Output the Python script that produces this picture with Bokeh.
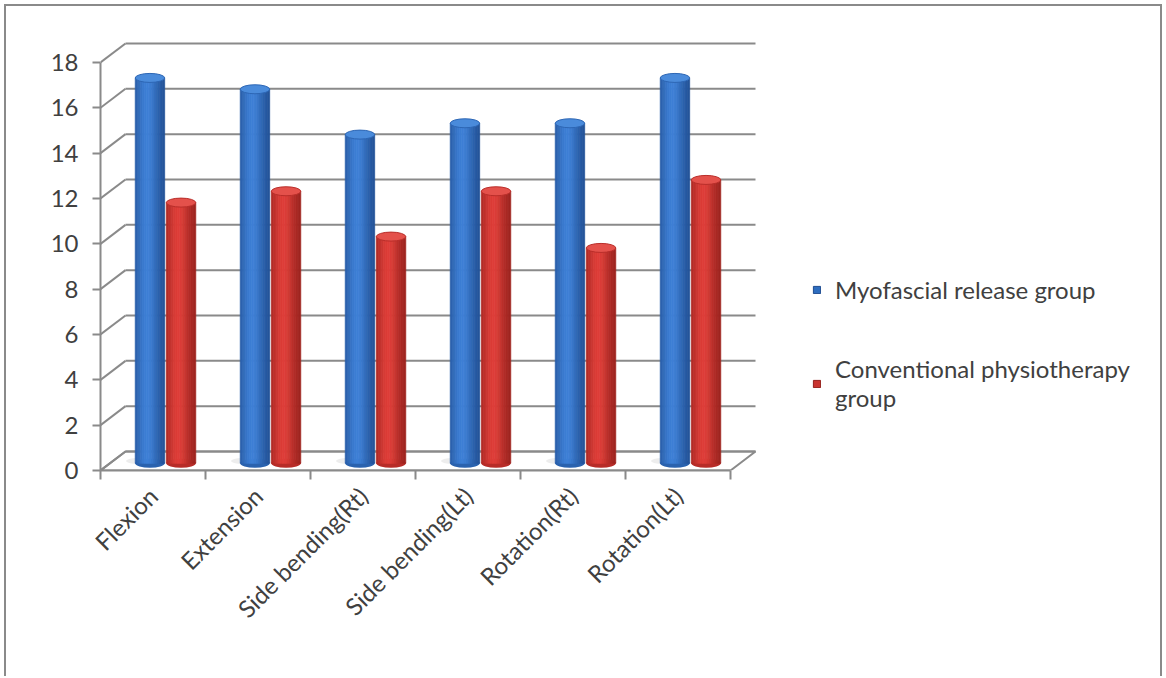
import math
from bokeh.plotting import figure
from bokeh.models import Range1d, FixedTicker, Legend, LegendItem, ColumnDataSource
from bokeh.embed import file_html
from bokeh.resources import INLINE

categories = ["Flexion", "Extension", "Side bending(Rt)", "Side bending(Lt)", "Rotation(Rt)", "Rotation(Lt)"]
myofascial = [17, 16.5, 14.5, 15, 15, 17]
conventional = [11.5, 12, 10, 12, 9.5, 12.5]
y_ticks = [0, 2, 4, 6, 8, 10, 12, 14, 16, 18]
series_names = ["Myofascial release group", "Conventional physiotherapy\ngroup"]

# pixel geometry (layout only)
PX_X = 105.0          # px per category
PX_Y = 22.667         # px per unit
DX = 25 / PX_X        # 3-D depth offset in x (data units)
DY = 19 / PX_Y        # 3-D depth offset in y (data units)
FRAME_W, FRAME_H = 1064, 440
FONT = "Lato"
FS = "24px"
TXT = "#404040"
GRID = "#8a8a8a"

p = figure(width=1158, height=672,
           x_range=Range1d(0, FRAME_W / PX_X), y_range=Range1d(0, FRAME_H / PX_Y),
           output_backend="svg", toolbar_location=None,
           min_border_left=94, min_border_right=0, min_border_top=24, min_border_bottom=208)
p.outline_line_color = None
p.xgrid.visible = False
p.ygrid.visible = False
p.margin = (4, 0, 0, 4)
p.styles = {"border-left": "2px solid #8a8a8a", "border-top": "2px solid #8a8a8a",
            "border-right": "2px solid #8a8a8a"}

n = len(categories)
ymax = y_ticks[-1]

# floor
p.patch([0, n, n + DX, DX], [0, 0, DY, DY], fill_color="white", line_color=GRID, line_width=2)
# back wall gridlines
p.segment(x0=[DX] * len(y_ticks), y0=[t + DY for t in y_ticks],
          x1=[n + DX] * len(y_ticks), y1=[t + DY for t in y_ticks], line_color=GRID, line_width=2)
# side-wall diagonals
p.segment(x0=[0] * len(y_ticks), y0=y_ticks, x1=[DX] * len(y_ticks),
          y1=[t + DY for t in y_ticks], line_color=GRID, line_width=2)

# cylinders
BW = 0.28
OFF = 0.148
base = DY / 2 - 0.1
series = [myofascial, conventional]
light = [(0x3e, 0x80, 0xd6), (0xde, 0x3e, 0x38)]
dark = [(0x1f, 0x4c, 0x90), (0x94, 0x20, 0x1c)]
cap = ["#4a8bdb", "#e4514b"]
capline = ["#2d66b4", "#b92e2a"]
mid = ["#2a62ae", "#b72c28"]


def mix(a, b, g):
    return "#%02x%02x%02x" % tuple(int(round(a[i] + (b[i] - a[i]) * g)) for i in range(3))


NS = 16
centers = [[i + 0.5 + DX / 2 + (s - 0.5) * 2 * OFF for i in range(n)] for s in range(2)]

# floor shadows
p.ellipse(x=[i + 0.5 + DX / 2 - 0.2 for i in range(n)], y=[base + 0.1] * n, width=0.35, height=7,
          height_units="screen", fill_color="#9a9a9a", fill_alpha=0.18, line_color=None)

for s in range(2):
    vals = series[s]
    p.ellipse(x=centers[s], y=[base] * n, width=BW, height=9, height_units="screen",
              fill_color=mid[s], line_color=None)
    xs, tops, bots, cols = [], [], [], []
    for i in range(n):
        for k in range(NS):
            t = (k + 0.5) / NS
            g = math.exp(-((t - 0.42) / 0.4) ** 2)
            xs.append(centers[s][i] - BW / 2 + t * BW)
            tops.append(vals[i] + base)
            bots.append(base)
            cols.append(mix(dark[s], light[s], g))
    src = ColumnDataSource(dict(x=xs, top=tops, bottom=bots, color=cols))
    p.vbar(x="x", top="top", bottom="bottom", width=BW / NS, fill_color="color",
           line_color="color", line_width=0.8, source=src)
    p.ellipse(x=centers[s], y=[v + base for v in vals], width=BW, height=9, height_units="screen",
              fill_color=cap[s], line_color=capline[s], line_width=1)

# legend (swatch renderers hold one out-of-view bar so the legend can draw them)
lr = []
for s, col in enumerate(["#2e6dbf", "#c93430"]):
    lr.append(p.vbar(x=[-5], top=[1], width=0.1, fill_color=col, line_color=mix(dark[s], dark[s], 0)))
legend = Legend(items=[LegendItem(label=series_names[s], renderers=[lr[s]]) for s in range(2)],
                location=(712, 58), glyph_width=9, glyph_height=9, label_standoff=14,
                spacing=50, padding=0, margin=0, border_line_color=None, background_fill_alpha=0,
                label_text_font=FONT, label_text_font_size=FS, label_text_color=TXT,
                label_text_line_height=1.42)
p.add_layout(legend)

# axes
ya = p.yaxis[0]
ya.ticker = FixedTicker(ticks=y_ticks)
ya.bounds = (0, ymax)
ya.axis_line_color = GRID
ya.axis_line_width = 2
ya.major_tick_line_color = GRID
ya.major_tick_line_width = 2
ya.major_tick_out = 8
ya.major_tick_in = 0
ya.minor_tick_line_color = None
ya.major_label_standoff = 14
ya.major_label_text_font = FONT
ya.major_label_text_font_size = FS
ya.major_label_text_color = TXT

xa = p.xaxis[0]
xa.ticker = FixedTicker(ticks=[i + 0.5 for i in range(n)], minor_ticks=list(range(n + 1)))
xa.bounds = (0, n)
xa.axis_line_color = GRID
xa.axis_line_width = 2
xa.major_tick_out = 0
xa.major_tick_in = 0
xa.major_tick_line_color = None
xa.minor_tick_out = 9
xa.minor_tick_in = 0
xa.minor_tick_line_color = GRID
xa.minor_tick_line_width = 2
xa.major_label_overrides = {i + 0.5: c for i, c in enumerate(categories)}
xa.major_label_orientation = math.pi / 4
xa.major_label_standoff = 12
xa.major_label_text_font = FONT
xa.major_label_text_font_size = FS
xa.major_label_text_color = TXT

open("out.html", "w").write(file_html(p, INLINE))
